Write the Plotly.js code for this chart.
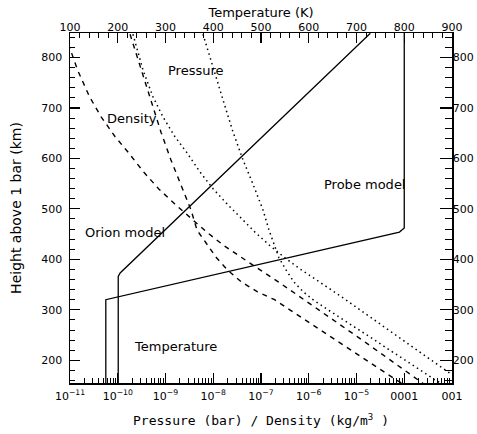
<!DOCTYPE html>
<html><head><meta charset="utf-8">
<script src="https://cdn.plot.ly/plotly-3.0.1.min.js"></script>
<style>html,body{margin:0;padding:0;background:#fff}#chart{width:477px;height:434px}</style>
</head><body><div id="chart"></div>
<script>
// Temperature profiles (top axis, K) vs height (km)
const probeTemp   = [800, 800, 790, 175, 175];
const probeTempKm = [850, 462, 454, 320, 150];
const orionTemp   = [729, 205, 201, 201];
const orionTempKm = [848, 373, 366, 150];

// Pressure (bar) profiles vs height (km)
const probePres   = [6.1e-9, 9.9e-9, 1.6e-8, 2.6e-8, 4.2e-8, 6.8e-8, 1.1e-7, 1.47e-7, 1.87e-7, 2.38e-7, 3.34e-7, 4.91e-7, 7.59e-7, 1.23e-6, 2.53e-6, 5.47e-6, 1.13e-5, 2.32e-5, 4.8e-5, 1.04e-4, 2.14e-4, 4.41e-4, 7.13e-4];
const probePresKm = [846, 779, 716, 652, 597, 549, 498, 458, 429, 403, 379, 355, 336, 320, 300, 280, 260, 241, 221, 201, 181, 161, 150];
const orionPres   = [2.08e-10, 3.38e-10, 5.47e-10, 8.87e-10, 1.58e-9, 2.82e-9, 5.28e-9, 9.89e-9, 1.94e-8, 3.63e-8, 7.48e-8, 1.54e-7, 3.18e-7, 6.56e-7, 1.72e-6, 4.51e-6, 1.18e-5, 3.1e-5, 8.15e-5, 2.14e-4, 5.61e-4, 1.16e-3];
const orionPresKm = [846, 775, 722, 682, 643, 611, 573, 540, 510, 484, 454, 427, 403, 381, 355, 328, 300, 272, 245, 217, 189, 167];

// Density (kg/m^3) profiles vs height (km)
const probeDens   = [1.81e-10, 3.07e-10, 4.97e-10, 8.05e-10, 1.3e-9, 2.11e-9, 3.42e-9, 4.57e-9, 7.4e-9, 1.17e-8, 1.99e-8, 3.91e-8, 8.31e-8, 1.93e-7, 4.01e-7, 8.34e-7, 1.74e-6, 3.6e-6, 7.52e-6, 1.57e-5, 3.26e-5, 6.81e-5, 1.06e-4];
const probeDensKm = [846, 779, 716, 652, 597, 549, 498, 458, 429, 403, 379, 355, 336, 320, 300, 280, 260, 241, 221, 201, 181, 161, 150];
const orionDens   = [7.86e-12, 1.13e-11, 1.44e-11, 2.57e-11, 4.52e-11, 8.81e-11, 1.69e-10, 3.49e-10, 7.16e-10, 1.55e-9, 3.17e-9, 7.29e-9, 1.69e-8, 3.91e-8, 8.91e-8, 2.34e-7, 6.12e-7, 1.61e-6, 4.22e-6, 1.11e-5, 2.9e-5, 7.62e-5, 1.57e-4, 2.85e-4];
const orionDensKm = [846, 805, 775, 722, 682, 643, 611, 573, 540, 510, 484, 454, 427, 403, 381, 355, 328, 300, 272, 245, 217, 189, 167, 150];

// Tick labels
const bottomTickVals = [1e-11, 1e-10, 1e-9, 1e-8, 1e-7, 1e-6, 1e-5, 1e-4, 1e-3];
const bottomTickText = ['10<sup>−11</sup>', '10<sup>−10</sup>', '10<sup>−9</sup>', '10<sup>−8</sup>', '10<sup>−7</sup>', '10<sup>−6</sup>', '10<sup>−5</sup>', '0001', '001'];
const labels = ['Pressure', 'Density', 'Probe model', 'Orion model', 'Temperature'];

const minorLog = [];
for (let d = -11; d < -3; d++) for (let m = 2; m <= 9; m++) minorLog.push(m * Math.pow(10, d));

const blk = '#000';
const FAM = 'DejaVu Sans, Liberation Sans, sans-serif';
const solid = {color: blk, width: 1.3};
const traces = [
  {x: probeTemp, y: probeTempKm, xaxis: 'x2', yaxis: 'y2', mode: 'lines', line: solid},
  {x: orionTemp, y: orionTempKm, xaxis: 'x2', yaxis: 'y2', mode: 'lines', line: solid},
  {x: probePres, y: probePresKm, mode: 'lines', line: {color: blk, width: 1.5, dash: '1.5px,3.5px'}},
  {x: orionPres, y: orionPresKm, mode: 'lines', line: {color: blk, width: 1.5, dash: '1.5px,3.5px'}},
  {x: probeDens, y: probeDensKm, mode: 'lines', line: {color: blk, width: 1.4, dash: '5px,5px'}},
  {x: orionDens, y: orionDensKm, mode: 'lines', line: {color: blk, width: 1.4, dash: '5px,5px'}}
];

const tf = {family: FAM, size: 11, color: blk};
const yRange = [155, 848.5];
const annPos = [[0.330, 0.894], [0.162, 0.757], [0.772, 0.566], [0.144, 0.431], [0.275, 0.103]];

const layout = {
  width: 477, height: 434,
  margin: {l: 70, r: 25, t: 33, b: 51},
  paper_bgcolor: '#fff', plot_bgcolor: '#fff',
  showlegend: false,
  font: tf,
  xaxis: {
    type: 'log', range: [-11, -3], tickmode: 'array', tickvals: bottomTickVals, ticktext: bottomTickText,
    ticks: 'inside', ticklen: 10, tickcolor: blk, tickwidth: 1.2,
    minor: {tickmode: 'array', tickvals: minorLog, ticks: 'inside', ticklen: 5, tickcolor: blk, tickwidth: 1},
    showline: true, linecolor: blk, linewidth: 1.5, showgrid: false, zeroline: false,
    tickfont: {family: FAM, size: 11, color: blk}, ticklabelstandoff: 2,
    title: {text: 'Pressure (bar) / Density (kg/m<sup>3</sup> )', font: {family: 'DejaVu Sans Mono, monospace', size: 13, color: blk}, standoff: 14}
  },
  xaxis2: {
    overlaying: 'x', side: 'top', range: [100, 900], tick0: 100, dtick: 100,
    ticks: 'inside', ticklen: 10, tickcolor: blk, tickwidth: 1.2,
    minor: {dtick: 20, ticks: 'inside', ticklen: 5, tickcolor: blk, tickwidth: 1},
    showline: true, linecolor: blk, linewidth: 1.5, showgrid: false, zeroline: false,
    tickfont: tf, ticklabelstandoff: -4,
    title: {text: 'Temperature (K)', font: {family: FAM, size: 13, color: blk}, standoff: 0}
  },
  yaxis: {
    range: yRange, tick0: 0, dtick: 100,
    ticks: 'inside', ticklen: 10, tickcolor: blk, tickwidth: 1.2,
    minor: {dtick: 20, ticks: 'inside', ticklen: 5, tickcolor: blk, tickwidth: 1},
    showline: true, linecolor: blk, linewidth: 1.5, showgrid: false, zeroline: false,
    tickfont: tf, ticklabelstandoff: 4,
    title: {text: 'Height above 1 bar (km)', font: {family: FAM, size: 14, color: blk}, standoff: 16}
  },
  yaxis2: {
    overlaying: 'y', side: 'right', range: yRange, tick0: 0, dtick: 100,
    ticks: 'inside', ticklen: 12, tickcolor: blk, tickwidth: 1.2,
    minor: {dtick: 20, ticks: 'inside', ticklen: 7, tickcolor: blk, tickwidth: 1},
    showline: true, linecolor: blk, linewidth: 1.5, showgrid: false, zeroline: false,
    showticklabels: true, tickfont: tf, ticklabelstandoff: -3
  },
  annotations: labels.map((t, i) => ({
    text: t, xref: 'paper', yref: 'paper', x: annPos[i][0], y: annPos[i][1],
    xanchor: 'center', yanchor: 'middle',
    showarrow: false, font: {family: FAM, size: 13, color: blk}
  }))
};

Plotly.newPlot('chart', traces, layout, {staticPlot: true, displayModeBar: false});
</script>
</body></html>
